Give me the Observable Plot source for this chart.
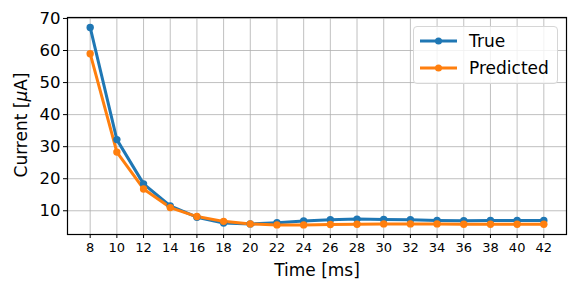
<!DOCTYPE html>
<html><head><meta charset="utf-8">
<script src="https://cdn.jsdelivr.net/npm/d3@7"></script>
<script src="https://cdn.jsdelivr.net/npm/@observablehq/plot@0.6"></script>
<style>
body{margin:0;background:#fff;font-family:"DejaVu Sans",sans-serif;}
#wrap{position:relative;width:576px;height:288px;}
.leg{position:absolute;left:413px;top:26px;width:143px;height:56px;border:1px solid #d6d6d6;border-radius:4px;background:rgba(255,255,255,0.8);font-size:17px;color:#000;}
.row{position:absolute;left:6px;height:22px;display:flex;align-items:center;}
.row svg{margin-right:12px;}
</style></head><body>
<div id="wrap"></div>
<script>
const times = [8,10,12,14,16,18,20,22,24,26,28,30,32,34,36,38,40,42];
const trueVals = [67.2,32.2,18.4,11.5,8.0,6.2,5.9,6.3,6.8,7.2,7.4,7.3,7.2,7.0,6.9,7.0,7.0,7.0];
const predVals = [59.0,28.3,16.8,11.0,8.2,6.7,5.9,5.6,5.6,5.7,5.8,5.9,5.9,5.9,5.8,5.8,5.8,5.8];
const yTicks = [10,20,30,40,50,60,70];
const seriesNames = ["True","Predicted"];
const colors = ["#1f77b4","#ff7f0e"];

const data = [];
times.forEach((t,i)=>{data.push({t,v:trueVals[i],s:seriesNames[0]});});
times.forEach((t,i)=>{data.push({t,v:predVals[i],s:seriesNames[1]});});

const plot = Plot.plot({
  width:576,height:288,
  marginLeft:67,marginRight:10,marginTop:17,marginBottom:54,
  style:{fontFamily:"DejaVu Sans",background:"#fff",color:"#000"},
  x:{domain:[6.3,43.7],ticks:times,label:null,tickSize:4},
  y:{domain:[2.6,70.3],ticks:yTicks,label:null,tickSize:4},
  color:{domain:seriesNames,range:colors},
  marks:[
    Plot.gridX(times,{stroke:"#b0b0b0",strokeOpacity:1,strokeWidth:0.8}),
    Plot.gridY(yTicks,{stroke:"#b0b0b0",strokeOpacity:1,strokeWidth:0.8}),
    Plot.line(data,{x:"t",y:"v",stroke:"s",z:"s",strokeWidth:3}),
    Plot.dot(data,{x:"t",y:"v",fill:"s",r:3.7}),
    Plot.axisX(times,{fontSize:13,tickSize:4,tickPadding:4,label:null}),
    Plot.axisY(yTicks,{fontSize:16.5,tickSize:4,tickPadding:3,label:null}),
    Plot.frame({stroke:"#000",strokeWidth:1.2}),
    Plot.text(["Time [ms]"],{frameAnchor:"bottom",dy:41,fontSize:17}),
  ]
});
const wrap=document.getElementById("wrap");
plot.style.position="absolute";plot.style.left="0";plot.style.top="0";
wrap.appendChild(plot);
// y label
const yl=document.createElement("div");
yl.innerHTML='Current [<i>μ</i>A]';
yl.style.cssText="position:absolute;left:21px;top:125px;transform:translate(-50%,-50%) rotate(-90deg);font-size:17px;white-space:nowrap;";
wrap.appendChild(yl);
// legend
const leg=document.createElement("div");leg.className="leg";
seriesNames.forEach((n,i)=>{
  const r=document.createElement("div");r.className="row";r.style.top=(i===0?3:30)+"px";
  r.innerHTML=`<svg width="37" height="10"><line x1="0" y1="5" x2="37" y2="5" stroke="${colors[i]}" stroke-width="3"/><circle cx="18.5" cy="5" r="3.5" fill="${colors[i]}"/></svg><span>${n}</span>`;
  leg.appendChild(r);
});
wrap.appendChild(leg);
</script>
</body></html>
